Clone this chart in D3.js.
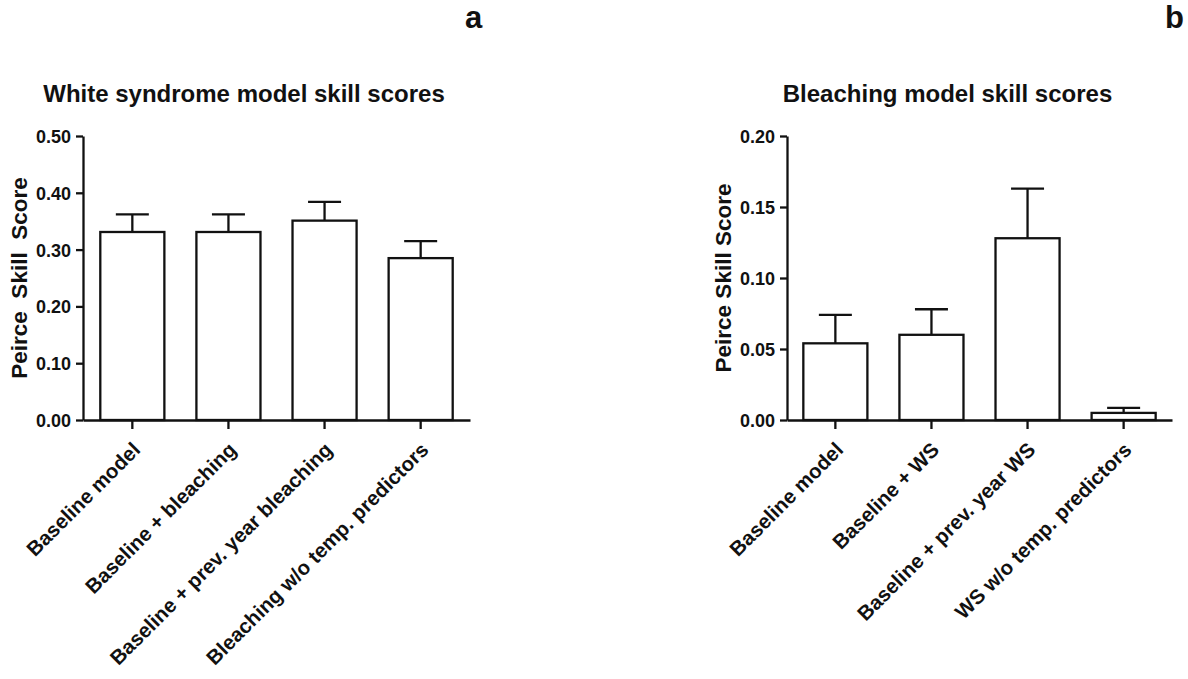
<!DOCTYPE html>
<html>
<head>
<meta charset="utf-8">
<script src="https://cdn.jsdelivr.net/npm/d3@7"></script>
<style>
  html, body { margin: 0; padding: 0; background: #fff; }
  svg { display: block; font-family: "Liberation Sans", Arial, Helvetica, sans-serif; }
</style>
</head>
<body>
<svg id="chart" width="1188" height="679"></svg>
<script>
// White syndrome models (panel a)
const wsCategories = ["Baseline model", "Baseline + bleaching", "Baseline + prev. year bleaching", "Bleaching w/o temp. predictors"];
const wsScores = [0.331, 0.331, 0.351, 0.285];
const wsErrors = [0.031, 0.031, 0.033, 0.030];
const wsTicks = [0.00, 0.10, 0.20, 0.30, 0.40, 0.50];

// Bleaching models (panel b)
const blCategories = ["Baseline model", "Baseline + WS", "Baseline + prev. year WS", "WS w/o temp. predictors"];
const blScores = [0.054, 0.060, 0.128, 0.005];
const blErrors = [0.020, 0.018, 0.035, 0.0035];
const blTicks = [0.00, 0.05, 0.10, 0.15, 0.20];

const svg = d3.select("#chart");
const ink = "#111";
const lineW = 2.3;

function drawPanel(opt) {
  const g = svg.append("g");
  const x = d3.scaleBand()
    .domain(opt.categories)
    .range([opt.x0, opt.x1])
    .paddingInner(1 / 3)
    .paddingOuter(opt.outer);
  const y = d3.scaleLinear()
    .domain([0, opt.max])
    .range([opt.yBottom, opt.yTop]);

  const data = opt.categories.map((c, i) => ({ c, v: opt.scores[i], e: opt.errors[i] }));
  const cx = d => x(d.c) + x.bandwidth() / 2;

  // error bars (upper side only)
  const err = g.append("g").attr("stroke", ink).attr("stroke-width", lineW).attr("fill", "none");
  err.selectAll("line.stem").data(data).join("line")
    .attr("x1", cx).attr("x2", cx)
    .attr("y1", d => y(d.v))
    .attr("y2", d => y(d.v + d.e));
  err.selectAll("line.cap").data(data).join("line")
    .attr("x1", d => cx(d) - 16.5)
    .attr("x2", d => cx(d) + 16.5)
    .attr("y1", d => y(d.v + d.e))
    .attr("y2", d => y(d.v + d.e));

  // bars
  g.append("g").selectAll("rect").data(data).join("rect")
    .attr("x", d => x(d.c))
    .attr("width", x.bandwidth())
    .attr("y", d => y(d.v))
    .attr("height", d => y(0) - y(d.v))
    .attr("fill", "#fff")
    .attr("stroke", ink)
    .attr("stroke-width", lineW);

  // y axis
  const yAxis = g.append("g")
    .attr("transform", `translate(${opt.x0},0)`)
    .call(d3.axisLeft(y).tickValues(opt.ticks).tickFormat(d3.format(".2f")).tickSize(7).tickPadding(5).tickSizeOuter(0));
  yAxis.selectAll("path, line").attr("stroke", ink).attr("stroke-width", lineW);
  yAxis.selectAll("text")
    .attr("fill", ink)
    .attr("font-size", 18)
    .attr("font-weight", "bold")
    .attr("dy", "0.36em");

  // x axis
  const xAxis = g.append("g")
    .attr("transform", `translate(0,${opt.yBottom})`)
    .call(d3.axisBottom(x).tickSize(9).tickSizeOuter(0));
  xAxis.selectAll("path, line").attr("stroke", ink).attr("stroke-width", lineW);
  xAxis.selectAll("text")
    .attr("fill", ink)
    .attr("font-size", 20.5)
    .attr("font-weight", "bold")
    .attr("text-anchor", "end")
    .attr("y", 0)
    .attr("dy", "0.35em")
    .attr("transform", "translate(4,26) rotate(-45)");

  // y axis title
  g.append("text")
    .attr("transform", `translate(${opt.yLabelX},${(opt.yTop + opt.yBottom) / 2}) rotate(-90)`)
    .attr("text-anchor", "middle")
    .attr("font-size", 22.5)
    .attr("font-weight", "bold")
    .attr("fill", ink)
    .style("white-space", "pre")
    .text(opt.yLabel);

  // panel title
  g.append("text")
    .attr("x", opt.titleX)
    .attr("y", 102)
    .attr("text-anchor", "middle")
    .attr("font-size", 24)
    .attr("font-weight", "bold")
    .attr("fill", ink)
    .text(opt.title);

  // panel letter
  g.append("text")
    .attr("x", opt.letterX)
    .attr("y", 28)
    .attr("font-size", 31)
    .attr("font-weight", "bold")
    .attr("fill", ink)
    .text(opt.letter);
}

drawPanel({
  categories: wsCategories, scores: wsScores, errors: wsErrors, ticks: wsTicks, max: 0.5,
  x0: 83, x1: 470, outer: 0.18, yTop: 136, yBottom: 420,
  yLabel: "Peirce  Skill  Score", yLabelX: 27,
  title: "White syndrome model skill scores", titleX: 244,
  letter: "a", letterX: 465
});

drawPanel({
  categories: blCategories, scores: blScores, errors: blErrors, ticks: blTicks, max: 0.2,
  x0: 787, x1: 1172, outer: 0.17, yTop: 136, yBottom: 420,
  yLabel: "Peirce Skill Score", yLabelX: 731,
  title: "Bleaching model skill scores", titleX: 947.5,
  letter: "b", letterX: 1165
});
</script>
</body>
</html>
